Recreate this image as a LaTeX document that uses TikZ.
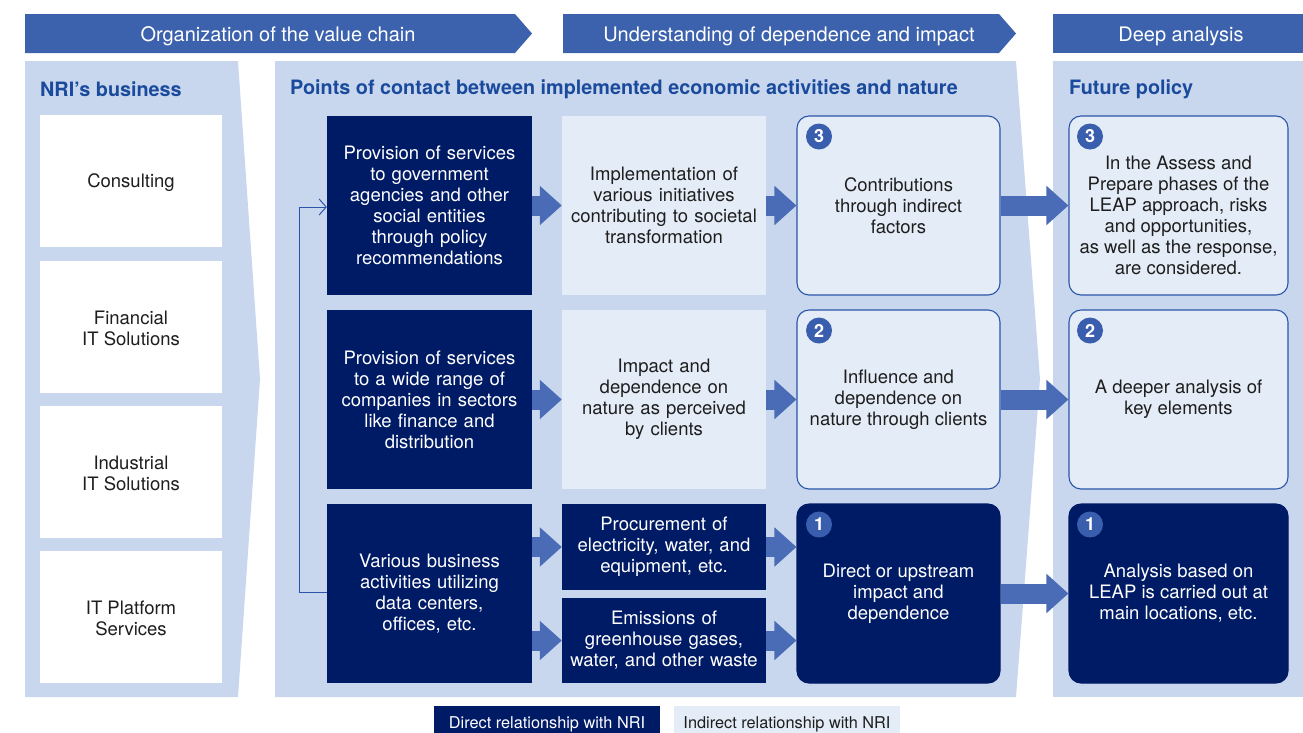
\documentclass[tikz,border=0pt]{standalone}
\usepackage{fontspec}
\setmainfont{TeX Gyre Heros}
\usetikzlibrary{arrows.meta}
\definecolor{hdr}{HTML}{3D62AD}
\definecolor{panel}{HTML}{C9D7EE}
\definecolor{navy}{HTML}{001B66}
\definecolor{lightbg}{HTML}{E4ECF7}
\definecolor{bordc}{HTML}{2A55A8}
\definecolor{arrowc}{HTML}{4A6CB6}
\definecolor{titlec}{HTML}{1A4A9C}
\definecolor{numc}{HTML}{3A5EAE}
\definecolor{txtc}{HTML}{1E1E1E}
\begin{document}
\begin{tikzpicture}[x=1pt,y=-1pt,
  body/.style={font=\fontsize{18.5}{21}\selectfont, align=center, inner sep=0pt},
  hdrtext/.style={text=white, font=\fontsize{20}{24}\selectfont, inner sep=0pt},
  ttl/.style={text=titlec, font=\bfseries\fontsize{19.8}{23}\selectfont, anchor=west, inner sep=0pt},
  whitebox/.style={fill=white, minimum width=182pt, minimum height=132pt},
  wtext/.style={body, text=txtc},
  navybox/.style={body, fill=navy, text=white, text width=200pt},
  lightbox/.style={body, fill=lightbg, text=txtc, text width=200pt},
  rlight/.style={body, fill=lightbg, text=txtc, draw=bordc, line width=1.1pt, rounded corners=12pt},
  rnavy/.style={body, fill=navy, text=white, draw=navy, line width=1.1pt, rounded corners=12pt},
  numdot/.style={circle, fill=numc, text=white, inner sep=0pt, minimum size=26pt, font=\bfseries\fontsize{18}{18}\selectfont},
  bigarrow/.style={draw=arrowc, line width=20pt, -{Triangle[width=38pt,length=22pt]}},
  fb/.style={draw=bordc, line width=1pt, -{Straight Barb[length=7pt,width=16pt]}},
  legtext/.style={font=\fontsize{16.3}{18}\selectfont, inner sep=0pt, minimum width=226pt, minimum height=36pt}
]
\clip (0,0) rectangle (1303,732);
\useasboundingbox (0,0) rectangle (1303,732);

% header bars
\fill[hdr] (25,14) -- (515,14) -- (532,33.5) -- (515,53) -- (25,53) -- cycle;
\fill[hdr] (563,14) -- (999,14) -- (1016,33.5) -- (999,53) -- (563,53) -- cycle;
\fill[hdr] (1053,14) rectangle (1303,53);
\node[hdrtext] (h1) at (278,36) {Organization of the value chain};
\node[hdrtext] (h2) at (789,36) {Understanding of dependence and impact};
\node[hdrtext] (h3) at (1181,36) {Deep analysis};

% panels
\fill[panel] (25,61) -- (238,61) -- (260,379) -- (238,697) -- (25,697) -- cycle;
\fill[panel] (275,61) -- (1016,61) -- (1040,379) -- (1016,697) -- (275,697) -- cycle;
\fill[panel] (1053,61) rectangle (1303,697);

\node[ttl] (t1) at (40,89.5) {NRI’s business};
\node[ttl] (t2) at (290,89.5) {Points of contact between implemented economic activities and nature};
\node[ttl] (t3) at (1069,89.5) {Future policy};

% left business boxes
\node[whitebox] (L1) at (131,181) {};
\node[whitebox] (L2) at (131,327) {};
\node[whitebox] (L3) at (131,472) {};
\node[whitebox] (L4) at (131,617) {};
\node[wtext] (L1t) at ([yshift=-2pt]L1.center) {Consulting};
\node[wtext] (L2t) at ([yshift=-1pt]L2.center) {Financial\\IT Solutions};
\node[wtext] (L3t) at ([yshift=-1pt]L3.center) {Industrial\\IT Solutions};
\node[wtext] (L4t) at ([yshift=-1pt]L4.center) {IT Platform\\Services};

% column A
\node[navybox, minimum width=205pt, minimum height=179pt] (A1) at (429.5,205.5)
  {Provision of services\\to government\\agencies and other\\social entities\\through policy\\recommendations};
\node[navybox, minimum width=205pt, minimum height=179pt] (A2) at (429.5,399.5)
  {Provision of services\\to a wide range of\\companies in sectors\\like finance and\\distribution};
\node[navybox, minimum width=205pt, minimum height=179pt] (A3) at (429.5,593.5)
  {Various business\\activities utilizing\\data centers,\\offices, etc.};

% column B
\node[lightbox, minimum width=204pt, minimum height=179pt] (B1) at (664,205.5)
  {Implementation of\\various initiatives\\contributing to societal\\transformation};
\node[lightbox, minimum width=204pt, minimum height=179pt] (B2) at (664,399.5)
  {Impact and\\dependence on\\nature as perceived\\by clients};
\node[navybox, minimum width=204pt, minimum height=86pt] (B3a) at (664,547)
  {Procurement of\\electricity, water, and\\equipment, etc.};
\node[navybox, minimum width=204pt, minimum height=85pt] (B3b) at (664,640.5)
  {Emissions of\\greenhouse gases,\\water, and other waste};

% column C
\node[rlight, minimum width=203pt, minimum height=179pt] (C1) at (898.5,205.5)
  {Contributions\\through indirect\\factors};
\node[rlight, minimum width=203pt, minimum height=179pt] (C2) at (898.5,399.5)
  {Influence and\\dependence on\\nature through clients};
\node[rnavy, minimum width=203pt, minimum height=179pt] (C3) at (898.5,593.5)
  {Direct or upstream\\impact and\\dependence};

% column D
\node[rlight, minimum width=219pt, minimum height=179pt] (D1) at (1178.5,205.5) {};
\node[body, text=txtc] (D1t) at ([yshift=-10pt]D1.center)
  {In the Assess and\\Prepare phases of the\\LEAP approach, risks\\and opportunities,\\as well as the response,\\are considered.};
\node[rlight, minimum width=219pt, minimum height=179pt] (D2) at (1178.5,399.5)
  {A deeper analysis of\\key elements};
\node[rnavy, minimum width=219pt, minimum height=179pt] (D3) at (1178.5,593.5)
  {Analysis based on\\LEAP is carried out at\\main locations, etc.};

% number dots
\node[numdot] (nC1) at (819,136.5) {3};
\node[numdot] (nC2) at (819,330.5) {2};
\node[numdot] (nC3) at (819,524.5) {1};
\node[numdot] (nD1) at (1090,136.5) {3};
\node[numdot] (nD2) at (1090,330.5) {2};
\node[numdot] (nD3) at (1090,524.5) {1};

% arrows A -> B
\draw[bigarrow] (A1.east) -- (B1.west);
\draw[bigarrow] (A2.east) -- (B2.west);
\draw[bigarrow] (A3.east |- B3a.west) -- (B3a.west);
\draw[bigarrow] (A3.east |- B3b.west) -- (B3b.west);
% arrows B -> C
\draw[bigarrow] (B1.east) -- (C1.west);
\draw[bigarrow] (B2.east) -- (C2.west);
\draw[bigarrow] (B3a.east) -- (C3.west |- B3a.east);
\draw[bigarrow] (B3b.east) -- (C3.west |- B3b.east);
% arrows C -> D
\draw[bigarrow] (C1.east) -- (D1.west);
\draw[bigarrow] (C2.east) -- (D2.west);
\draw[bigarrow] (C3.east) -- (D3.west);

% feedback loop
\draw[fb] ([yshift=1.5pt]A3.west) -- ++(-27,0) |- ([yshift=-1.5pt]A1.west);

% legend
\node[legtext, fill=navy, text=white] (leg1) at (547,724) {Direct relationship with NRI};
\node[legtext, fill=lightbg, text=txtc] (leg2) at (787,724) {Indirect relationship with NRI};
\end{tikzpicture}
\end{document}
